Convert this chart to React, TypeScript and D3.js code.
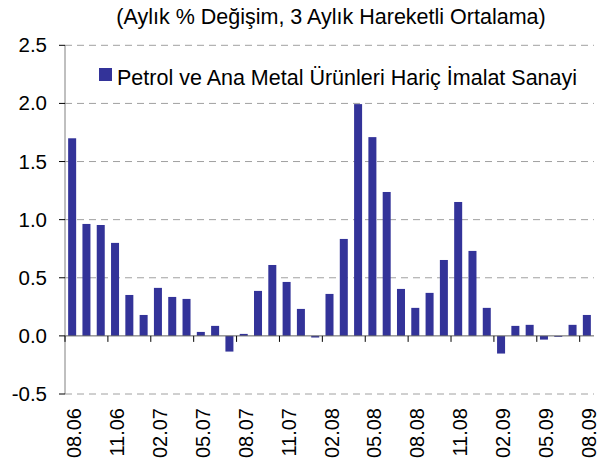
import React from "react";
import * as d3 from "d3";

const months = [
  "08.06", "09.06", "10.06", "11.06", "12.06", "01.07", "02.07", "03.07", "04.07",
  "05.07", "06.07", "07.07", "08.07", "09.07", "10.07", "11.07", "12.07", "01.08",
  "02.08", "03.08", "04.08", "05.08", "06.08", "07.08", "08.08", "09.08", "10.08",
  "11.08", "12.08", "01.09", "02.09", "03.09", "04.09", "05.09", "06.09", "07.09", "08.09",
];
const values = [
  1.70, 0.963, 0.954, 0.80, 0.352, 0.18, 0.413, 0.335, 0.318,
  0.034, 0.086, -0.135, 0.017, 0.387, 0.61, 0.464, 0.232, -0.014,
  0.361, 0.834, 1.994, 1.71, 1.238, 0.404, 0.241, 0.37, 0.653,
  1.152, 0.731, 0.241, -0.152, 0.086, 0.095, -0.032, -0.008, 0.095, 0.18,
];
const yTicks = [-0.5, 0.0, 0.5, 1.0, 1.5, 2.0, 2.5];
const title = "(Aylık % Değişim, 3 Aylık Hareketli Ortalama)";
const seriesName = "Petrol ve Ana Metal Ürünleri Hariç İmalat Sanayi";

const W = 604;
const H = 467;
const left = 65;
const right = 594;
const font = "'Liberation Sans', Arial, sans-serif";

export default function App() {
  const pad = 0.44;
  const x = d3
    .scaleBand<string>()
    .domain(months)
    .range([left, right])
    .paddingInner(pad)
    .paddingOuter(pad / 2);
  const y = d3.scaleLinear().domain([-0.5, 2.5]).range([394, 45.3]);
  const step = x.step();
  const boundary = (i: number) => left + i * step;
  const labelIdx = months.map((_, i) => i).filter((i) => i % 3 === 0);

  return (
    <div style={{ position: "fixed", left: 0, top: 0 }}>
      <svg width={W} height={H} style={{ display: "block", background: "#fff" }} fontFamily={font}>
        <text x={331} y={24} textAnchor="middle" fontSize={21.5} fill="#000">
          {title}
        </text>
        {yTicks
          .filter((t) => t !== 0)
          .map((t) => (
            <line
              key={"g" + t}
              x1={left}
              x2={right}
              y1={y(t)}
              y2={y(t)}
              stroke="#a0a0a0"
              strokeWidth={1}
              strokeDasharray="7,5"
            />
          ))}
        {values.map((v, i) => (
          <rect
            key={"b" + i}
            x={x(months[i])}
            width={x.bandwidth()}
            y={Math.min(y(v), y(0))}
            height={Math.abs(y(v) - y(0))}
            fill="#333399"
          />
        ))}
        <line x1={left} x2={left} y1={y(2.5)} y2={y(-0.5)} stroke="#808080" strokeWidth={1} />
        <line x1={left} x2={right} y1={y(0)} y2={y(0)} stroke="#606060" strokeWidth={1} />
        {yTicks.map((t) => (
          <g key={"t" + t}>
            <line x1={left - 6} x2={left} y1={y(t)} y2={y(t)} stroke="#000" strokeWidth={1} />
            <text x={47} y={y(t) + 7} textAnchor="end" fontSize={20.5} fill="#000">
              {t.toFixed(1)}
            </text>
          </g>
        ))}
        {labelIdx.map((i) => (
          <line
            key={"xt" + i}
            x1={boundary(i)}
            x2={boundary(i)}
            y1={y(0)}
            y2={y(0) + 6}
            stroke="#000"
            strokeWidth={1}
          />
        ))}
        {labelIdx.map((i) => {
          const cx = (x(months[i]) as number) + x.bandwidth() / 2;
          return (
            <text
              key={"xl" + i}
              transform={`translate(${cx + 9},408) rotate(-90)`}
              textAnchor="end"
              fontSize={20}
              fill="#000"
            >
              {months[i]}
            </text>
          );
        })}
        <rect x={99} y={68} width={13} height={13} fill="#333399" />
        <text x={117} y={85} fontSize={21.5} fill="#000">
          {seriesName}
        </text>
      </svg>
    </div>
  );
}
